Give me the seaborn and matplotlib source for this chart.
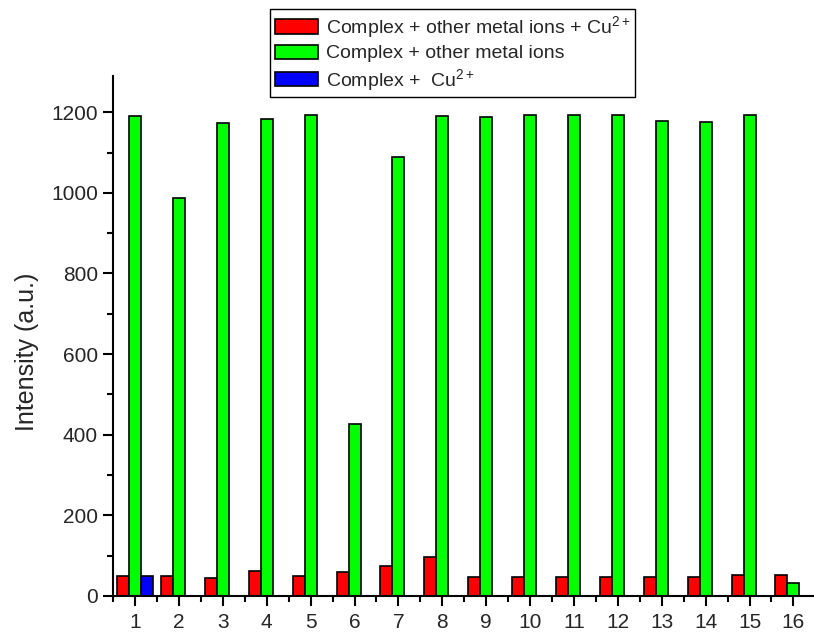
import matplotlib
matplotlib.use("Agg")
import matplotlib.pyplot as plt
import seaborn as sns
import pandas as pd
from matplotlib.ticker import MultipleLocator, FixedLocator

categories = [str(i) for i in range(1, 17)]
red_vals = [50, 50, 45, 62, 50, 59, 75, 97, 48, 48, 48, 48, 48, 48, 51, 51]
green_vals = [1191, 988, 1173, 1183, 1194, 426, 1090, 1191, 1188, 1194, 1192, 1192, 1179, 1177, 1194, 32]
blue_cats = ["1"]
blue_vals = [50]

lab_red = "Complex + other metal ions + Cu$^{2+}$"
lab_green = "Complex + other metal ions"
lab_blue = "Complex +  Cu$^{2+}$"

rows = []
for c, v in zip(categories, red_vals):
    rows.append((c, lab_red, v))
for c, v in zip(categories, green_vals):
    rows.append((c, lab_green, v))
for c, v in zip(blue_cats, blue_vals):
    rows.append((c, lab_blue, v))
df = pd.DataFrame(rows, columns=["cat", "series", "value"])

sns.set_theme(style="ticks")
plt.rcParams["font.family"] = ["Liberation Sans", "DejaVu Sans"]
plt.rcParams["mathtext.fontset"] = "custom"
plt.rcParams["mathtext.rm"] = "Liberation Sans"
plt.rcParams["mathtext.it"] = "Liberation Sans"

fig = plt.figure(figsize=(8.14, 6.33), dpi=100)
ax = fig.add_axes([0.139, 0.0585, 0.86, 0.8215])

sns.barplot(data=df, x="cat", y="value", hue="series", order=categories,
            hue_order=[lab_red, lab_green, lab_blue],
            palette=["#FF0000", "#00FF00", "#0000FF"],
            width=0.82, dodge=True, errorbar=None, saturation=1,
            edgecolor="black", linewidth=1.2, ax=ax)

ax.set_xlim(-0.5, 15.45)
ax.set_ylim(0, 1290)
ax.set_xlabel("")
ax.set_ylabel("Intensity (a.u.)", fontsize=18)
ax.yaxis.set_label_coords(-0.106, 0.469)
ax.set_yticks(range(0, 1201, 200))
ax.yaxis.set_minor_locator(MultipleLocator(100))
ax.xaxis.set_minor_locator(FixedLocator([i + 0.5 for i in range(-1, 16)]))
ax.tick_params(axis="both", which="major", labelsize=15, direction="out", length=7, width=1.5,
               color="black", pad=4)
ax.tick_params(axis="x", which="major", pad=5)
ax.tick_params(axis="both", which="minor", direction="out", length=4, width=1.5, color="black")
for s in ["right", "top"]:
    ax.spines[s].set_visible(False)
for s in ["left", "bottom"]:
    ax.spines[s].set_linewidth(1.5)
    ax.spines[s].set_color("black")

handles, labels = ax.get_legend_handles_labels()
if ax.legend_:
    ax.legend_.remove()
leg = fig.legend(handles, labels, loc="upper center", bbox_to_anchor=(0.556, 0.985),
                 fontsize=14, frameon=True, fancybox=False, framealpha=1,
                 edgecolor="black", handlelength=2.2, handleheight=0.75,
                 labelspacing=0.22, borderpad=0.25, handletextpad=0.4, borderaxespad=0)
leg.get_frame().set_linewidth(1.0)

fig.savefig("out.png", dpi=100)
